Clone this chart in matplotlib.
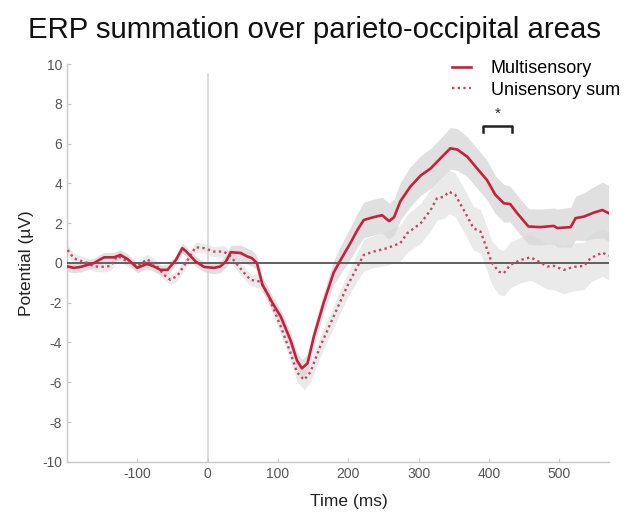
import numpy as np
import matplotlib
matplotlib.use("Agg")
import matplotlib.pyplot as plt

plt.rcParams["font.family"] = ["Liberation Sans", "DejaVu Sans"]
plt.rcParams["axes.unicode_minus"] = False

# ── data ──
ms_t = [-199, -190, -180, -171, -161, -154, -147, -133, -124, -114,
        -100, -86, -76, -67, -57, -45, -36, -31, -17, -5,
        9, 18, 26, 33, 47, 56, 63, 70, 78, 92,
        104, 118, 127, 134, 142, 151, 165, 179, 189, 203,
        213, 222, 236, 248, 258, 265, 274, 288, 303, 317,
        331, 345, 355, 369, 383, 397, 409, 421, 430, 440,
        456, 473, 492, 497, 516, 523, 535, 549, 561, 570]
ms_v = [-0.18, -0.25, -0.2, -0.1, 0.0, 0.15, 0.28, 0.28, 0.4, 0.2,
        -0.25, -0.05, -0.18, -0.35, -0.35, 0.15, 0.74, 0.6, 0.07, -0.2,
        -0.25, -0.18, 0.07, 0.54, 0.5, 0.33, 0.24, 0.0, -1.1, -2.0,
        -2.7, -3.9, -4.9, -5.3, -5.05, -3.7, -2.0, -0.5, 0.15, 1.0,
        1.66, 2.16, 2.3, 2.4, 2.1, 2.3, 3.1, 3.83, 4.4, 4.75,
        5.26, 5.76, 5.7, 5.34, 4.75, 4.17, 3.42, 3.0, 2.96, 2.5,
        1.83, 1.8, 1.86, 1.75, 1.8, 2.25, 2.33, 2.53, 2.66, 2.5]
ms_sem = [0.25] * 20 + [0.3, 0.3, 0.3, 0.35, 0.4, 0.4, 0.4, 0.35,
          0.35, 0.35, 0.35, 0.4, 0.4, 0.45, 0.45, 0.45, 0.5, 0.6,
          0.7, 0.8, 0.85, 0.9, 0.9, 0.9, 0.9, 0.9,
          0.95, 1.0, 1.0, 1.0, 1.0, 1.05, 1.05, 1.0, 1.0, 1.0,
          0.95, 0.95, 0.9, 0.9, 0.9, 0.9, 0.9, 0.95,
          1.0, 1.1, 1.2, 1.3, 1.4, 1.4]

us_t = [-199, -190, -180, -171, -161, -147, -138, -128, -114, -100,
        -86, -74, -62, -53, -43, -31, -24, -17, -5, 9,
        23, 33, 42, 52, 61, 75, 85, 90, 104, 118,
        127, 137, 146, 160, 179, 198, 213, 222, 236, 255,
        274, 284, 303, 317, 326, 336, 343, 352, 364, 378,
        388, 395, 404, 414, 421, 430, 445, 459, 469, 483,
        492, 506, 520, 535, 544, 561, 570]
us_v = [0.65, 0.23, 0.1, 0.0, -0.18, -0.2, -0.15, 0.35, 0.08, -0.18,
        0.18, -0.08, -0.6, -0.85, -0.65, 0.0, 0.4, 0.79, 0.74, 0.57,
        0.57, 0.32, -0.08, -0.5, -0.85, -0.94, -1.5, -2.0, -3.2, -4.54,
        -5.5, -5.88, -5.5, -4.2, -2.7, -1.2, -0.18, 0.4, 0.57, 0.74,
        1.0, 1.5, 2.0, 2.66, 3.25, 3.33, 3.58, 3.42, 2.66, 1.74,
        1.57, 0.9, 0.0, -0.44, -0.52, -0.1, 0.15, 0.28, 0.1, -0.18,
        -0.15, -0.35, -0.2, -0.15, 0.23, 0.52, 0.35]
us_sem = [0.25] * 20 + [0.3, 0.3, 0.3, 0.3, 0.3, 0.35, 0.35, 0.35, 0.4, 0.4,
          0.45, 0.5, 0.5, 0.5, 0.55, 0.6, 0.7, 0.8, 0.8, 0.85,
          0.9, 0.95, 1.0, 1.05, 1.1, 1.1, 1.1, 1.1, 1.1, 1.1,
          1.1, 1.1, 1.1, 1.15, 1.15, 1.15, 1.15, 1.15, 1.15, 1.15,
          1.2, 1.2, 1.2, 1.2, 1.2, 1.2, 1.2]

sig_window = [392, 433]   # ms, significant cluster
sig_y = 6.9

x_ticks = [-100, 0, 100, 200, 300, 400, 500]
y_ticks = list(range(-10, 11, 2))

RED = "#c8203c"
RED_DOT = "#c04a62"

# ── figure ──
fig = plt.figure(figsize=(6.25, 5.12), dpi=100)
ax = fig.add_axes([0.107, 0.098, 0.868, 0.777])

ms_t, ms_v, ms_sem = map(np.array, (ms_t, ms_v, ms_sem))
us_t, us_v, us_sem = map(np.array, (us_t, us_v, us_sem))

ax.fill_between(us_t, us_v - us_sem, us_v + us_sem, color="#eaeaea", lw=0, zorder=1)
ax.fill_between(ms_t, ms_v - ms_sem, ms_v + ms_sem, color="#d6d6d6", alpha=0.75, lw=0, zorder=2)

ax.axhline(0, color="#606060", lw=1.4, zorder=3)
ax.plot([0, 0], [-10, 9.5], color="#d4d4d4", lw=1.2, zorder=1.5)

ax.plot(us_t, us_v, color=RED_DOT, lw=1.7, ls=(0, (1, 1.4)), zorder=4,
        label="Unisensory sum")
ax.plot(ms_t, ms_v, color=RED, lw=1.9, zorder=5, label="Multisensory")

# significance bracket
ax.plot([sig_window[0], sig_window[0], sig_window[1], sig_window[1]],
        [sig_y - 0.3, sig_y, sig_y, sig_y - 0.3], color="#222222", lw=1.8,
        zorder=6)
ax.text(np.mean(sig_window), sig_y + 0.25, "*", ha="center", va="bottom",
        fontsize=11, color="#222222")

ax.set_xlim(-200, 571)
ax.set_ylim(-10, 10)
ax.set_xticks(x_ticks)
ax.set_yticks(y_ticks)
ax.tick_params(direction="in", length=3, width=0.8, colors="#c8c8c8",
               labelcolor="#555555", labelsize=10)
for s in ("top", "right"):
    ax.spines[s].set_visible(False)
for s in ("left", "bottom"):
    ax.spines[s].set_color("#c8c8c8")
    ax.spines[s].set_linewidth(1.0)

ax.set_xlabel("Time (ms)", fontsize=12.5, color="#222222")
ax.set_ylabel("Potential (µV)", fontsize=12.5, color="#222222")
ax.xaxis.set_label_coords(0.52, -0.08)
ax.yaxis.set_label_coords(-0.06, 0.5)

handles, labels = ax.get_legend_handles_labels()
ax.legend(handles[::-1], labels[::-1], loc="upper left",
          bbox_to_anchor=(452 / 625, 1 - 60 / 512), bbox_transform=fig.transFigure,
          frameon=False, fontsize=13, handlelength=1.05, handletextpad=1.1,
          borderpad=0, borderaxespad=0, labelspacing=0.25)

fig.text(28 / 625, 1 - 30 / 512, "ERP summation over parieto-occipital areas",
         fontsize=21.2, va="center", ha="left", color="#111111")

fig.savefig("out.png", dpi=100)
